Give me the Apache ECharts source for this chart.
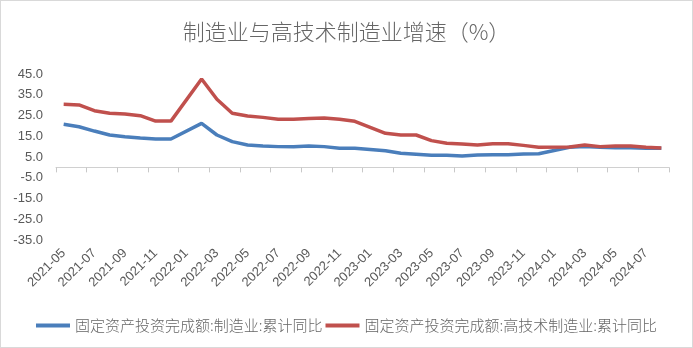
<!DOCTYPE html>
<html>
<head>
<meta charset="utf-8">
<script src="https://cdn.jsdelivr.net/npm/echarts@6/dist/echarts.min.js"></script>
<style>
html,body{margin:0;padding:0;background:#fff;}
#wrap{position:relative;width:693px;height:348px;}
#chart{position:absolute;left:0;top:0;width:693px;height:348px;}
#frame{position:absolute;left:0;top:0;width:693px;height:348px;box-sizing:border-box;border:1px solid #d9d9d9;pointer-events:none;}
</style>
</head>
<body>
<div id="wrap"><div id="chart"></div><div id="frame"></div></div>
<script>
const categories = ['2021-05','2021-06','2021-07','2021-08','2021-09','2021-10','2021-11','2021-12',
  '2022-01','2022-02','2022-03','2022-04','2022-05','2022-06','2022-07','2022-08','2022-09','2022-10','2022-11','2022-12',
  '2023-01','2023-02','2023-03','2023-04','2023-05','2023-06','2023-07','2023-08','2023-09','2023-10','2023-11','2023-12',
  '2024-01','2024-02','2024-03','2024-04','2024-05','2024-06','2024-07','2024-08'];
const manufacturing = [20.8,19.6,17.5,15.6,14.8,14.2,13.7,13.7,
  null,21.2,15.6,12.4,10.8,10.3,10.0,9.9,10.3,10.0,9.2,9.2,
  null,8.0,6.8,6.3,5.8,5.8,5.5,6.0,6.1,6.1,6.4,6.6,
  null,9.7,10.0,9.7,9.5,9.5,9.2,9.2];
const hightech = [30.4,30.1,27.3,26.1,25.7,24.9,22.3,22.3,
  null,42.6,32.8,26.1,24.8,24.1,23.2,23.2,23.5,23.8,23.2,22.2,
  null,16.4,15.6,15.6,12.9,11.6,11.3,10.8,11.4,11.4,10.6,9.7,
  null,9.8,10.8,10.0,10.3,10.3,9.7,9.3];
const seriesNames = ['固定资产投资完成额:制造业:累计同比','固定资产投资完成额:高技术制造业:累计同比'];
const titleText = '制造业与高技术制造业增速（%）';
const yMin = -35, yMax = 45, yStep = 10;

const chart = echarts.init(document.getElementById('chart'));
chart.setOption({
  animation: false,
  backgroundColor: '#fff',
  title: {
    text: titleText, left: 'center', top: 16,
    textStyle: {color: '#666666', fontSize: 22, fontWeight: 300, fontFamily: 'Noto Sans CJK SC'}
  },
  legend: {
    left: 'center', top: 313,
    icon: 'rect', itemWidth: 34, itemHeight: 4, itemGap: 3,
    textStyle: {color: '#666666', fontSize: 15, fontWeight: 300, fontFamily: 'Noto Sans CJK SC'},
    data: seriesNames
  },
  grid: {left: 56, right: 24, top: 74, bottom: 108, containLabel: false, outerBoundsMode: 'none'},
  xAxis: [{
    type: 'category', data: categories, boundaryGap: true, position: 'bottom',
    axisLine: {show: false, onZero: false}, axisTick: {show: false},
    axisLabel: {interval: 1, rotate: 45, margin: 11, color: '#595959', fontSize: 13, fontFamily: 'Liberation Sans'},
    splitLine: {show: false}
  }, {
    type: 'category', data: categories, boundaryGap: true, position: 'bottom',
    axisLine: {show: true, onZero: true, onZeroAxisIndex: 0, lineStyle: {color: '#d0d0d0', width: 1}},
    axisTick: {show: true, interval: 1, length: 5, lineStyle: {color: '#c8c8c8'}},
    axisLabel: {show: false}, splitLine: {show: false}
  }],
  yAxis: {
    type: 'value', min: yMin, max: yMax, interval: yStep,
    axisLine: {show: false}, axisTick: {show: false}, splitLine: {show: false},
    axisLabel: {margin: 13, color: '#595959', fontSize: 13, fontFamily: 'Liberation Sans',
      formatter: v => v.toFixed(1)}
  },
  series: [{
    name: seriesNames[0], type: 'line', data: manufacturing, xAxisIndex: 0,
    connectNulls: true, showSymbol: false, symbol: 'none',
    lineStyle: {color: '#4a7ebb', width: 3.5}, itemStyle: {color: '#4a7ebb'}
  }, {
    name: seriesNames[1], type: 'line', data: hightech, xAxisIndex: 0,
    connectNulls: true, showSymbol: false, symbol: 'none',
    lineStyle: {color: '#c0504d', width: 3.5}, itemStyle: {color: '#c0504d'}
  }]
});
</script>
</body>
</html>
